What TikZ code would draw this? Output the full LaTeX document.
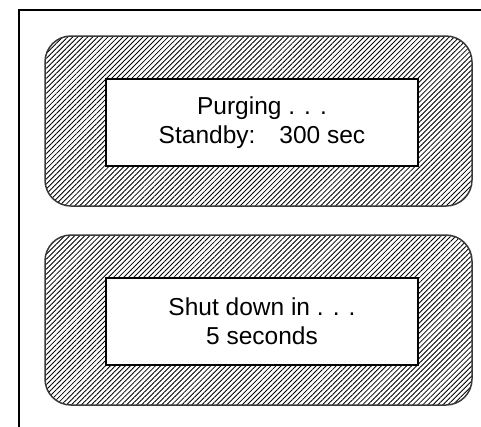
\documentclass[tikz,border=0pt]{standalone}
\usepackage{fontspec}
\setmainfont{Liberation Sans}
\usetikzlibrary{patterns.meta}
\begin{document}
\begin{tikzpicture}[x=1pt,y=-1pt,
  hatchbox/.style={draw=black!78,line width=1.5pt,rounded corners=26pt,
    pattern={Lines[angle=45,distance=3.55pt,line width=0.85pt]}},
  screen/.style={draw=black,line width=2pt,fill=white,minimum width=312pt,minimum height=87pt,
    inner sep=0pt,align=center,font=\fontsize{24.5pt}{29pt}\selectfont},
  frameline/.style={draw=black,line width=2.2pt}]
\useasboundingbox (0,0) rectangle (481,426);
\coordinate (fbl) at (19,430);
\coordinate (ftl) at (19,10);
\coordinate (ftr) at (485,10);
\draw[frameline] (fbl) -- (ftl) -- (ftr);
\path[hatchbox] (45,36) rectangle (472,206);
\path[hatchbox] (45,235) rectangle (472,405);
\node[screen] (s1) at (262,122.5) {Purging . . .\\Standby:\hspace{24pt}300 sec};
\node[screen] (s2) at (262,321.5) {Shut down in . . .\\5 seconds};
\end{tikzpicture}
\end{document}
